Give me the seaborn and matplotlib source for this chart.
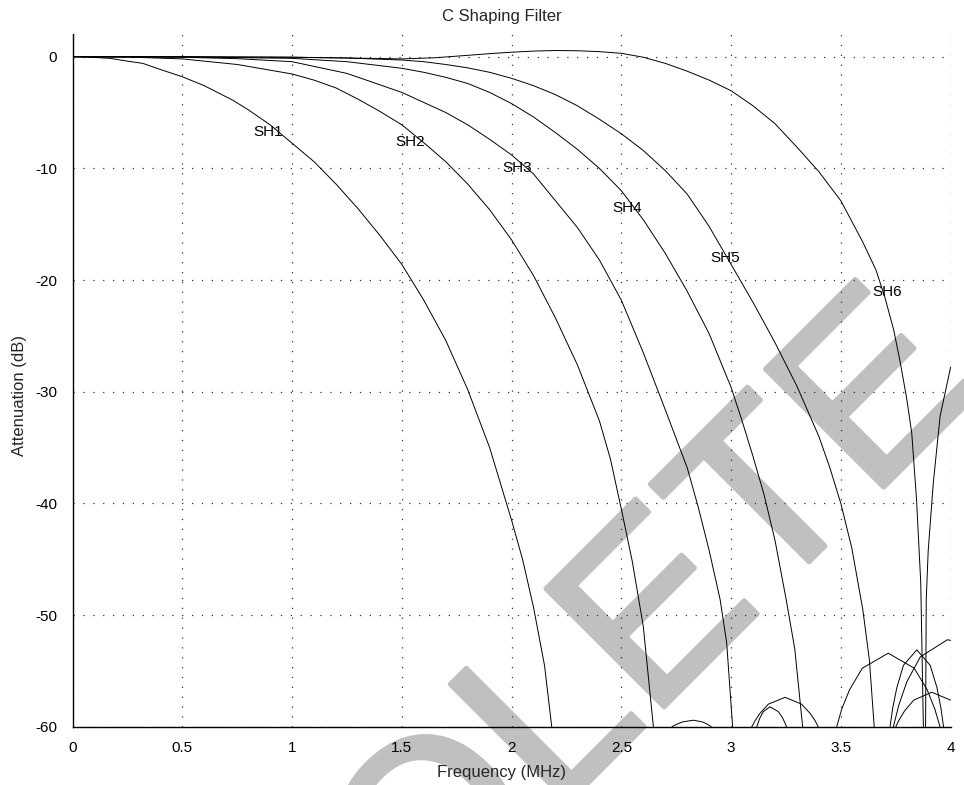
import numpy as np
import pandas as pd
import matplotlib
matplotlib.use("Agg")
import matplotlib.pyplot as plt
import matplotlib.patheffects as pe
import seaborn as sns

# Main lobes of the six shaping-filter responses (frequency in MHz, attenuation in dB)
sh1_f = [0.0, 0.1, 0.17, 0.25, 0.32, 0.4, 0.5, 0.6, 0.73, 0.8, 0.9, 1.0, 1.1, 1.2, 1.3, 1.4, 1.5,
         1.6, 1.7, 1.8, 1.9, 2.0, 2.05, 2.1, 2.15, 2.183]
sh1_db = [0.0, -0.07, -0.15, -0.4, -0.6, -1.15, -1.8, -2.6, -3.9, -4.75, -6.1, -7.75, -9.4, -11.4,
          -13.6, -16.0, -18.6, -21.8, -25.4, -29.8, -35.0, -41.5, -45.0, -49.3, -54.5, -60.0]

sh2_f = [0.0, 0.25, 0.5, 0.75, 1.0, 1.1, 1.2, 1.3, 1.4, 1.5, 1.6, 1.7, 1.8, 1.9, 2.0, 2.1, 2.2, 2.3,
         2.4, 2.45, 2.5, 2.55, 2.6, 2.646]
sh2_db = [0.0, -0.03, -0.2, -0.7, -1.55, -2.1, -2.8, -3.8, -4.9, -6.1, -7.7, -9.4, -11.4, -13.7,
          -16.4, -19.6, -23.4, -27.6, -32.6, -36.0, -40.5, -45.2, -51.0, -60.0]

sh3_f = [0.0, 0.5, 0.75, 1.0, 1.25, 1.5, 1.6, 1.7, 1.8, 1.9, 2.0, 2.1, 2.2, 2.3, 2.4, 2.5, 2.6, 2.7,
         2.75, 2.8, 2.85, 2.9, 2.95, 2.98, 3.007]
sh3_db = [0.0, -0.05, -0.18, -0.45, -1.5, -3.2, -4.1, -5.0, -6.1, -7.4, -8.8, -10.5, -12.9, -15.3,
          -18.2, -21.8, -26.5, -31.6, -34.2, -36.8, -40.3, -44.2, -48.6, -52.5, -60.0]

sh4_f = [0.0, 0.5, 1.0, 1.25, 1.5, 1.6, 1.7, 1.8, 1.9, 2.0, 2.1, 2.2, 2.3, 2.4, 2.5, 2.6, 2.7, 2.8,
         2.9, 3.0, 3.05, 3.1, 3.15, 3.2, 3.25, 3.29, 3.326]
sh4_db = [0.0, -0.02, -0.15, -0.45, -1.04, -1.4, -1.85, -2.4, -3.2, -4.2, -5.4, -6.8, -8.3, -10.0,
          -12.0, -14.6, -17.6, -21.0, -24.8, -29.6, -32.6, -35.8, -39.2, -43.3, -48.5, -53.0, -60.0]

sh5_f = [0.0, 1.0, 1.25, 1.5, 1.6, 1.7, 1.8, 1.9, 2.0, 2.1, 2.2, 2.3, 2.4, 2.5, 2.6, 2.7, 2.8, 2.9,
         3.0, 3.1, 3.2, 3.3, 3.4, 3.45, 3.5, 3.55, 3.6, 3.63, 3.652]
sh5_db = [0.0, -0.05, -0.12, -0.3, -0.45, -0.7, -1.0, -1.4, -1.94, -2.6, -3.4, -4.4, -5.6, -6.9,
          -8.4, -10.2, -12.3, -15.2, -18.6, -22.0, -25.6, -29.5, -34.0, -36.8, -40.0, -44.0, -49.5,
          -54.0, -60.0]

sh6_f = [0.0, 0.5, 1.0, 1.25, 1.5, 1.65, 1.8, 1.9, 2.0, 2.1, 2.2, 2.3, 2.4, 2.5, 2.6, 2.7, 2.8, 2.9,
         3.0, 3.1, 3.2, 3.3, 3.4, 3.5, 3.6, 3.66, 3.7, 3.74, 3.77, 3.8, 3.823, 3.845, 3.864, 3.876]
sh6_db = [0.0, 0.0, -0.05, -0.12, -0.2, -0.1, 0.12, 0.27, 0.4, 0.5, 0.55, 0.53, 0.45, 0.3, -0.05,
          -0.6, -1.3, -2.1, -3.05, -4.4, -6.0, -8.1, -10.3, -12.9, -16.6, -19.1, -21.5, -24.4,
          -27.3, -30.6, -33.7, -39.7, -47.1, -60.0]

# Branch of SH6 rising again after its first null
sh6_rise_f = [3.886, 3.889, 3.898, 3.921, 3.952, 4.0]
sh6_rise_db = [-60.0, -48.6, -44.2, -38.2, -32.2, -27.8]

# Stop-band side lobes
lobe_a_f = [2.73, 2.74, 2.755, 2.779, 2.828, 2.869, 2.89, 2.902, 2.91]
lobe_a_db = [-60.0, -59.88, -59.74, -59.55, -59.4, -59.55, -59.74, -59.88, -60.0]
lobe_b_f = [3.094, 3.109, 3.132, 3.17, 3.246, 3.321, 3.359, 3.383, 3.397]
lobe_b_db = [-60.0, -59.45, -58.77, -57.96, -57.35, -57.96, -58.77, -59.45, -60.0]
lobe_c_f = [3.117, 3.123, 3.132, 3.147, 3.177, 3.215, 3.234, 3.245, 3.253]
lobe_c_db = [-60.0, -59.63, -59.17, -58.63, -58.2, -58.63, -59.17, -59.63, -60.0]
lobe_d_f = [3.481, 3.504, 3.54, 3.598, 3.716, 3.834, 3.893, 3.928, 3.952]
lobe_d_db = [-60.0, -58.4, -56.66, -54.74, -53.4, -54.74, -56.66, -58.4, -60.0]
lobe_e_f = [3.724, 3.736, 3.755, 3.785, 3.846, 3.907, 3.938, 3.956, 3.968]
lobe_e_db = [-60.0, -58.34, -56.49, -54.49, -53.1, -54.49, -56.49, -58.34, -60.0]
lobe_f_f = [3.739, 3.764, 3.801, 3.862, 3.985, 4.0]
lobe_f_db = [-60.0, -58.05, -55.94, -53.73, -52.2, -52.25]
lobe_g_f = [3.75, 3.766, 3.791, 3.832, 3.914, 4.0]
lobe_g_db = [-60.0, -59.35, -58.55, -57.6, -56.9, -57.6]

curve_names = ["SH1", "SH2", "SH3", "SH4", "SH5", "SH6"]
label_f = [0.89, 1.537, 2.025, 2.526, 2.972, 3.71]
label_db = [-6.74, -7.6, -9.96, -13.55, -18.0, -21.1]

x_ticks = [0, 0.5, 1, 1.5, 2, 2.5, 3, 3.5, 4]
x_tick_labels = ["0", "0.5", "1", "1.5", "2", "2.5", "3", "3.5", "4"]
y_ticks = [-60, -50, -40, -30, -20, -10, 0]

segments = [
    ("SH1", sh1_f, sh1_db), ("SH1 lobe", lobe_a_f, lobe_a_db),
    ("SH2", sh2_f, sh2_db), ("SH2 lobe", lobe_b_f, lobe_b_db),
    ("SH3", sh3_f, sh3_db), ("SH3 lobe", lobe_c_f, lobe_c_db), ("SH3 lobe 2", lobe_g_f, lobe_g_db),
    ("SH4", sh4_f, sh4_db), ("SH4 lobe", lobe_d_f, lobe_d_db),
    ("SH5", sh5_f, sh5_db), ("SH5 lobe", lobe_e_f, lobe_e_db), ("SH5 lobe 2", lobe_f_f, lobe_f_db),
    ("SH6", sh6_f, sh6_db), ("SH6 rise", sh6_rise_f, sh6_rise_db),
]
frames = [pd.DataFrame({"segment": name, "freq": f, "atten": d}) for name, f, d in segments]
df = pd.concat(frames, ignore_index=True)

sns.set_style("white")
plt.rcParams["font.family"] = ["Liberation Sans", "DejaVu Sans"]
plt.rcParams["axes.unicode_minus"] = False

fig = plt.figure(figsize=(9.64, 7.85), dpi=100, facecolor="white")
ax = fig.add_axes([0.0753, 0.074, 0.9108, 0.8827])
ax.set_facecolor("none")
ax.set_zorder(1)

# Grey diagonal stamp behind the plot
fig.text(984 / 964, 1 - 387 / 785, "OBSOLETE", rotation=45, rotation_mode="anchor",
         ha="right", va="baseline", fontsize=175, color="#c0c0c0", zorder=0,
         path_effects=[pe.withStroke(linewidth=3.5, foreground="#c0c0c0")])

sns.lineplot(data=df, x="freq", y="atten", units="segment", estimator=None, sort=False,
             color="black", linewidth=0.7, legend=False, ax=ax)

for name, fx, dy in zip(curve_names, label_f, label_db):
    ax.text(fx, dy, name, ha="center", va="center", fontsize=11, color="black")

ax.set_xlim(0, 4)
ax.set_ylim(-60, 2.03)
ax.set_xticks(x_ticks)
ax.set_xticklabels(x_tick_labels)
ax.set_yticks(y_ticks)
ax.tick_params(direction="in", length=9, width=1.0, color="black", labelsize=11,
               labelcolor="black")
ax.tick_params(axis="x", pad=10)
ax.tick_params(axis="y", pad=11)
ax.grid(True, linestyle=(0, (1, 6.9)), color="#333333", linewidth=0.9)
for side in ["top", "right"]:
    ax.spines[side].set_visible(False)
for side in ["left", "bottom"]:
    ax.spines[side].set_color("black")
    ax.spines[side].set_linewidth(1.0)

ax.set_title("C Shaping Filter", fontsize=12, pad=9, x=0.489)
ax.set_xlabel("Frequency (MHz)", fontsize=12, labelpad=7, x=0.489)
ax.set_ylabel("Attenuation (dB)", fontsize=12, labelpad=6, y=0.479)

fig.savefig("out.png", dpi=100, facecolor="white")
